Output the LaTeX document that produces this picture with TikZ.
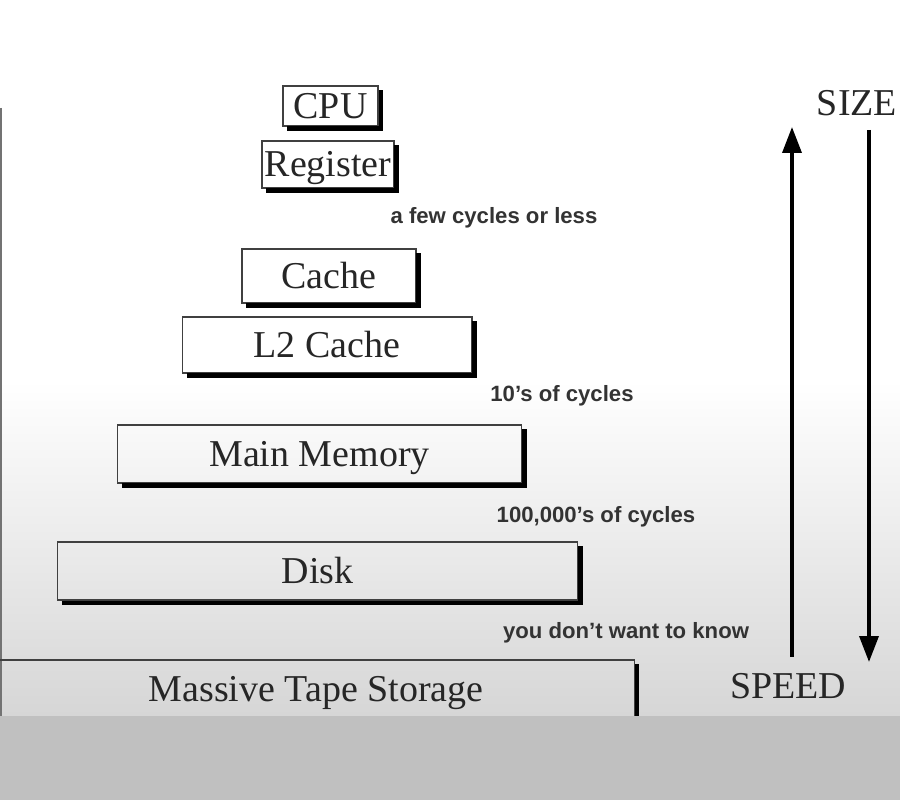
\documentclass[tikz,border=0pt]{standalone}
\usepackage{fontspec}
\setmainfont{Liberation Serif}
\newfontfamily\notefont{Liberation Sans}
\usetikzlibrary{arrows.meta}

\definecolor{bandgray}{HTML}{C0C0C0}
\definecolor{fadegray}{HTML}{D6D6D6}
\definecolor{inkgray}{HTML}{262626}

\tikzset{
  tier/.style={rectangle, draw=black!75, line width=0.6pt, inner sep=1pt,
    text height=16pt, text depth=2pt,
    text=inkgray, font=\fontsize{21.6}{24}\selectfont},
  axislabel/.style={text=inkgray, font=\fontsize{21.6}{24}\selectfont},
  note/.style={text=black!80, font=\notefont\bfseries\fontsize{12.6}{14}\selectfont},
  ledge/.style={line width=2.3pt, black},
  axis/.style={line width=2pt, -{Triangle[width=0.38cm,length=0.52cm]}}
}

\begin{document}
\begin{tikzpicture}[x=0.02cm, y=-0.02cm]
\useasboundingbox (0,0) rectangle (900,800);
\clip (0,0) rectangle (900,800);

% background
\fill[white] (0,0) rectangle (900,380);
\shade[top color=white, bottom color=fadegray] (0,380) rectangle (900,716);
\draw[black!55, line width=1pt] (1,108) -- (1,716);

% the levels
\node[tier, minimum width=1.9cm, minimum height=0.8cm] (1) at (330.5,106) {CPU};
\node[tier, minimum width=2.64cm, minimum height=0.94cm] (2) at (328,164.5) {Register};
\node[tier, minimum width=3.48cm, minimum height=1.08cm] (3) at (329,276) {Cache};
\node[tier, minimum width=5.8cm, minimum height=1.12cm] (4) at (327,345) {L2 Cache};
\node[tier, minimum width=8.1cm, minimum height=1.16cm] (5) at (319.5,454) {Main Memory};
\node[tier, minimum width=10.42cm, minimum height=1.16cm] (6) at (317.5,571) {Disk};
\node[tier, minimum width=12.76cm, minimum height=1.16cm] (7) at (316,689) {Massive Tape Storage};

\foreach \n in {1,...,7}
  \draw[ledge] ([shift={(5,2)}]\n.south west) -| ([shift={(2,5)}]\n.north east);

\node[note] (8) at (494,218) {a few cycles or less};
\node[note] (9) at (562,396) {10’s of cycles};
\node[note] (10) at (596,517) {100,000’s of cycles};
\node[note] (11) at (626,633) {you don’t want to know};

% size / speed
\node[axislabel] (12) at (857,103) {SIZE};
\node[axislabel] (13) at (788,686) {SPEED};
\coordinate (14) at (792,657);
\coordinate (15) at (792,127);
\coordinate (16) at (869,130);
\coordinate (17) at (869,662);
\draw[axis] (14) -- (15);
\draw[axis] (16) -- (17);

\fill[bandgray] (0,716) rectangle (900,800);
\end{tikzpicture}
\end{document}
